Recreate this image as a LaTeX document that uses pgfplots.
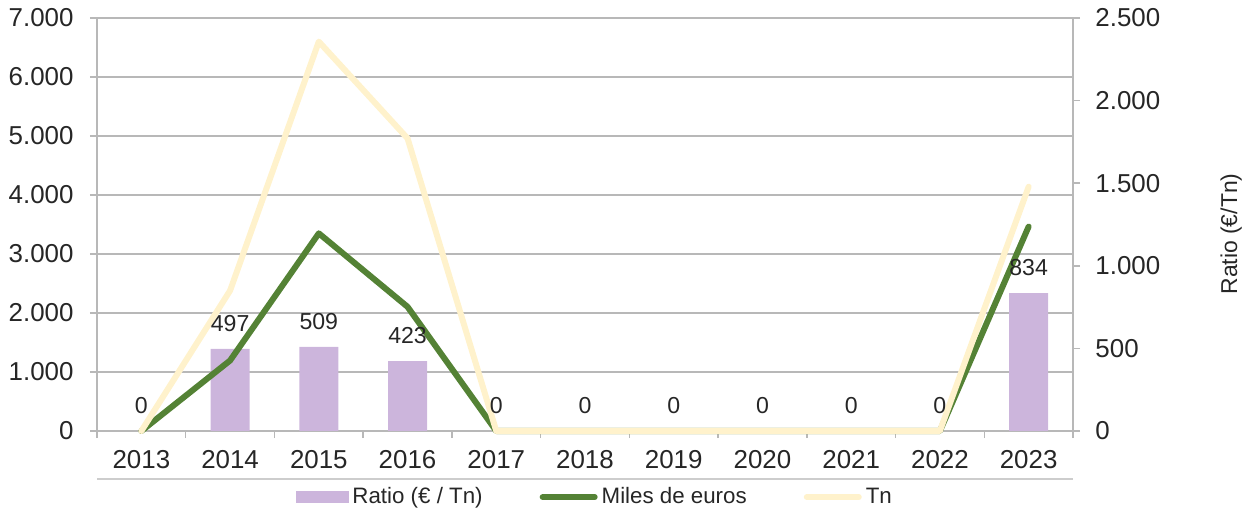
\documentclass[border=0pt]{standalone}
\usepackage{fontspec}
\setmainfont{Liberation Sans}
\usepackage{pgfplots}
\pgfplotsset{compat=1.18}
\definecolor{barc}{RGB}{204,181,220}
\definecolor{grn}{RGB}{84,130,53}
\definecolor{ylw}{RGB}{255,242,204}
\definecolor{axc}{RGB}{184,184,184}
\definecolor{txt}{RGB}{38,38,38}
\pgfplotsset{
  base/.style={
    scale only axis, width=488bp, height=206.5bp,
    xmin=-0.5, xmax=10.5, ymin=0,
    font=\fontsize{13}{15.6}\selectfont,
    /pgf/number format/assume math mode=true,
    /pgf/number format/1000 sep={.},
    tick label style={text=txt},
    tick align=outside,
    major tick length=3.5bp, minor tick length=3.5bp,
    axis line style={-, draw=axc, line width=0.75bp},
  }
}
\begin{document}
\begin{tikzpicture}
\useasboundingbox (-48.5bp,-40.5bp) rectangle (576.5bp,215.5bp);
% axis 1: left scale, grid, boundary ticks
\begin{axis}[base, ymax=7000,
  ytick={0,1000,2000,3000,4000,5000,6000,7000},
  ymajorgrids, grid style={draw=axc, line width=0.75bp},
  axis x line*=bottom, axis y line*=left,
  xtick={-0.5,0.5,1.5,2.5,3.5,4.5,5.5,6.5,7.5,8.5,9.5,10.5},
  xticklabels={},
  tick style={draw=axc, line width=0.75bp},
  yticklabel style={xshift=-4.7bp},
]
\addplot[draw=none] coordinates {(0,0)};
\end{axis}
% axis 2: right scale, bars
\begin{axis}[base, ymax=2500,
  ytick={0,500,1000,1500,2000,2500},
  axis x line*=bottom, axis y line*=right,
  xtick={0,1,2,3,4,5,6,7,8,9,10},
  xticklabels={2013,2014,2015,2016,2017,2018,2019,2020,2021,2022,2023},
  xtick style={draw=none},
  ytick style={draw=axc, line width=0.75bp},
  yticklabel style={xshift=4.2bp},
  xticklabel style={yshift=-2.5bp},
  ylabel={Ratio (€/Tn)},
  ylabel style={at={(axis description cs:1.162,0.477)}, anchor=center, text=txt,
    font=\fontsize{11.5}{13.8}\selectfont},
]
\addplot[ybar, bar width=19.5bp, fill=barc, draw=none] coordinates {
(0,0) (1,497) (2,509) (3,423) (4,0) (5,0) (6,0) (7,0) (8,0) (9,0) (10,834)};
\end{axis}
% axis 3: lines on left scale, legend
\begin{axis}[base, ymax=7000, hide axis, clip=false,
  legend columns=3,
  legend style={at={(0.511,-0.16)}, anchor=center, draw=none, fill=none,
    font=\fontsize{11.2}{13.4}\selectfont, text=txt,
    /tikz/column 2/.style={column sep=26.5bp},
    /tikz/column 4/.style={column sep=26.5bp}},
  legend image code/.code={\draw[#1] (0bp,0bp) -- (26bp,0bp);},
]
\draw[draw=axc!70, line width=0.75bp] (axis description cs:0,-0.1162) -- (axis description cs:1,-0.1162);
\addlegendimage{legend image code/.code={\fill[barc] (0bp,-2.75bp) rectangle (26bp,2.75bp);}}
\addlegendentry{Ratio (€ / Tn)}
\addplot[grn, line width=3bp, line cap=round, line join=round] coordinates {
(0,0) (1,1195) (2,3350) (3,2105) (4,0) (5,0) (6,0) (7,0) (8,0) (9,0) (10,3465)};
\addlegendentry{Miles de euros}
\addplot[ylw, line width=3bp, line cap=round, line join=round] coordinates {
(0,0) (1,2380) (2,6600) (3,4960) (4,0) (5,0) (6,0) (7,0) (8,0) (9,0) (10,4140)};
\addlegendentry{Tn}
\end{axis}
% axis 4: data labels on right scale
\begin{axis}[base, ymax=2500, hide axis, clip=false]
\addplot[ybar, bar width=19.5bp, fill=none, draw=none,
  nodes near coords,
  every node near coord/.append style={font=\fontsize{11.6}{13.9}\selectfont, text=txt, yshift=5.1bp}]
 coordinates {
(0,0) (1,497) (2,509) (3,423) (4,0) (5,0) (6,0) (7,0) (8,0) (9,0) (10,834)};
\end{axis}
\end{tikzpicture}
\end{document}
